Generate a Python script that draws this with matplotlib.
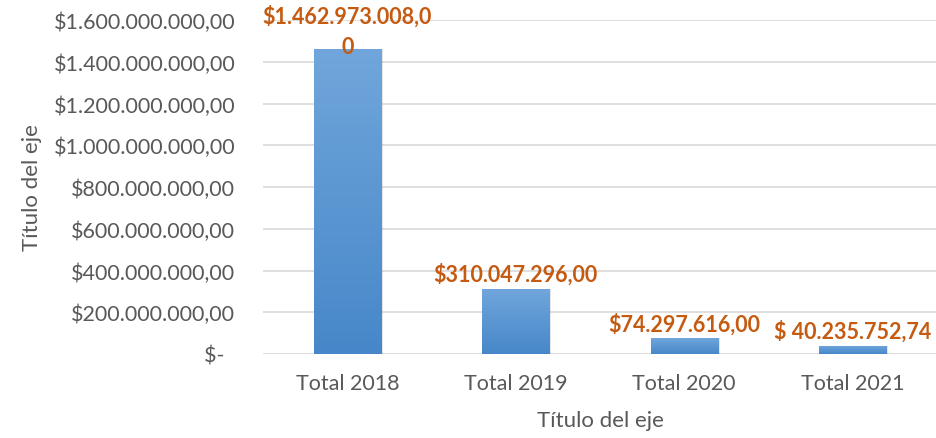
import numpy as np
import matplotlib.pyplot as plt
from matplotlib.ticker import FuncFormatter
from matplotlib.colors import LinearSegmentedColormap

categories = ['Total 2018', 'Total 2019', 'Total 2020', 'Total 2021']
values = [1462973008.00, 310047296.00, 74297616.00, 40235752.74]
value_labels = ['$1.462.973.008,0\n0', '$310.047.296,00', '$74.297.616,00', '$ 40.235.752,74']
yticks = [0, 2e8, 4e8, 6e8, 8e8, 10e8, 12e8, 14e8, 16e8]

plt.rcParams['font.family'] = ['Lato', 'DejaVu Sans']
txt = '#595959'
lab = '#C55A11'

def money(v, pos=None):
    if v == 0:
        return '$-  '
    s = '{:,.2f}'.format(v)
    s = s.replace(',', 'X').replace('.', ',').replace('X', '.')
    return '$' + s

fig = plt.figure(figsize=(9.37, 4.39), dpi=100)
ax = fig.add_axes([263/937, 1-355/439, 1-263/937, (355-21)/439])

x = np.arange(len(categories))
bars = ax.bar(x, values, width=0.40, color='none', zorder=3)

grad = LinearSegmentedColormap.from_list('g', ['#4787C9', '#70A6DB'])
g = np.linspace(0, 1, 256).reshape(-1, 1)
for b in bars:
    x0, y0 = b.get_x(), b.get_y()
    w, h = b.get_width(), b.get_height()
    im = ax.imshow(g, cmap=grad, origin='lower', aspect='auto',
                   extent=[x0, x0+w, y0, y0+h], zorder=3)
    im.set_clip_path(b)
    # soft shadow
    ax.bar(x0+w/2+0.012, h, width=w, bottom=0, color='#000000', alpha=0.10, zorder=2)

ax.set_xlim(-0.5, 3.5)
ax.set_ylim(0, 1.6e9)
ax.set_yticks(yticks)
ax.yaxis.set_major_formatter(FuncFormatter(money))
ax.set_xticks(x)
ax.set_xticklabels(categories)
ax.grid(axis='y', color='#D9D9D9', linewidth=1.2, zorder=0)
for s in ax.spines.values():
    s.set_visible(False)
ax.tick_params(axis='both', length=0, labelsize=15.5, labelcolor=txt)
ax.tick_params(axis='y', pad=20)
ax.tick_params(axis='x', pad=14)

ax.set_ylabel('Título del eje', fontsize=16, color=txt, labelpad=8)
ax.set_xlabel('Título del eje', fontsize=16, color=txt, labelpad=12)

for i, (v, t) in enumerate(zip(values, value_labels)):
    if '\n' in t:
        ax.annotate(t, (x[i], 1.0), xycoords=('data', 'axes fraction'), xytext=(0, -8),
                    textcoords='offset points', ha='center', va='center',
                    fontsize=15.5, fontweight='bold', color=lab, linespacing=1.55,
                    zorder=5, annotation_clip=False)
    else:
        ax.annotate(t, (x[i], v), xytext=(0, 3), textcoords='offset points', ha='center',
                    va='bottom', fontsize=15.5, fontweight='bold', color=lab, zorder=5)

fig.savefig('out.png', dpi=100)
plt.close()
